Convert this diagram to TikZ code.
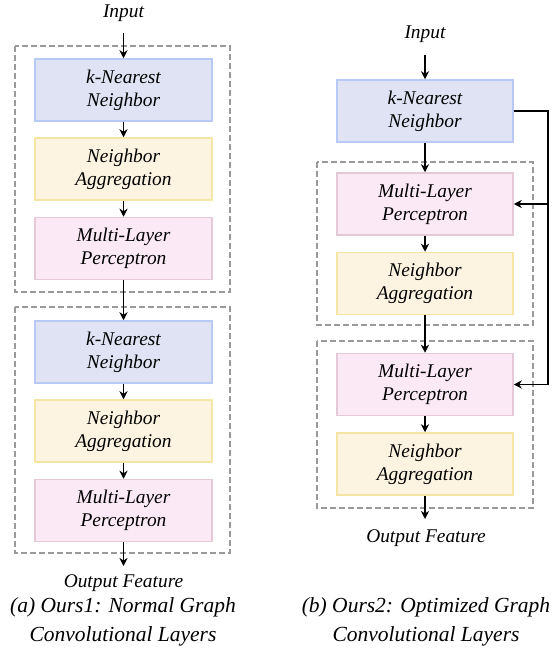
\documentclass[tikz,border=0pt]{standalone}
\usepackage{fontspec}
\setmainfont{Liberation Serif}
\usetikzlibrary{arrows.meta}
\definecolor{knnfill}{HTML}{DFE3F3}
\definecolor{knnline}{HTML}{B8C9F3}
\definecolor{nafill}{HTML}{FDF3E1}
\definecolor{naline}{HTML}{F6E6A6}
\definecolor{mlpfill}{HTML}{FBEAF5}
\definecolor{mlpline}{HTML}{E5C9D7}
\definecolor{dashgray}{HTML}{9A9A9A}
\tikzset{
  blk/.style={rectangle, line width=1.5pt, minimum width=177pt, minimum height=62pt, inner sep=0pt, align=center,
    font=\fontsize{19.4}{23}\selectfont\itshape},
  knn/.style={blk, draw=knnline, fill=knnfill},
  nagg/.style={blk, draw=naline, fill=nafill},
  mlp/.style={blk, draw=mlpline, fill=mlpfill},
  grp/.style={draw=dashgray, line width=1.5pt, dash pattern=on 6pt off 3pt},
  lbl/.style={font=\fontsize{19.4}{23}\selectfont\itshape, inner sep=0pt},
  captext/.style={font=\fontsize{21.5}{29}\selectfont\itshape, inner sep=0pt, align=center},
  arr/.style={line width=1.4pt, -{Stealth[length=8pt,width=8pt,inset=2.5pt]}},
}
\begin{document}
\begin{tikzpicture}[x=1pt,y=-1pt]
\useasboundingbox (0,0) rectangle (557,671);
% left column
\draw[grp] (15,46) rectangle (230,292);
\draw[grp] (15,307) rectangle (230,553);
\node[lbl] (inA) at (123.5,13) {Input};
\coordinate (inAe) at (123.5,33);
\node[knn] (knnA1) at (123.5,90) {k-Nearest\\Neighbor};
\node[nagg] (naA1) at (123.5,169) {Neighbor\\Aggregation};
\node[mlp] (mlpA1) at (123.5,248.5) {Multi-Layer\\Perceptron};
\node[knn] (knnA2) at (123.5,352) {k-Nearest\\Neighbor};
\node[nagg] (naA2) at (123.5,431) {Neighbor\\Aggregation};
\node[mlp] (mlpA2) at (123.5,510.5) {Multi-Layer\\Perceptron};
\coordinate (outAe) at (123.5,566);
\node[lbl] (outA) at (123.5,583) {Output Feature};
\draw[arr] (inAe) -- (knnA1.north);
\draw[arr] (knnA1) -- (naA1);
\draw[arr] (naA1) -- (mlpA1);
\draw[arr] (mlpA1) -- (knnA2);
\draw[arr] (knnA2) -- (naA2);
\draw[arr] (naA2) -- (mlpA2);
\draw[arr] (mlpA2.south) -- (outAe);
\node[captext] (capA) at (123,622) {(a) Ours1: Normal Graph\\Convolutional Layers};
% right column
\draw[grp] (317,162) rectangle (533,325);
\draw[grp] (317,341) rectangle (533,508);
\node[lbl] (inB) at (425,34) {Input};
\coordinate (inBe) at (425,55);
\node[knn, minimum width=176pt] (knnB) at (425,111) {k-Nearest\\Neighbor};
\node[mlp, minimum width=176pt] (mlpB1) at (425,204) {Multi-Layer\\Perceptron};
\node[nagg, minimum width=176pt] (naB1) at (425,283.5) {Neighbor\\Aggregation};
\node[mlp, minimum width=176pt] (mlpB2) at (425,384.5) {Multi-Layer\\Perceptron};
\node[nagg, minimum width=176pt] (naB2) at (425,464) {Neighbor\\Aggregation};
\coordinate (outBe) at (425,519);
\node[lbl] (outB) at (426,538) {Output Feature};
\draw[arr] (inBe) -- (knnB.north);
\draw[arr] (knnB) -- (mlpB1);
\draw[arr] (mlpB1) -- (naB1);
\draw[arr] (naB1) -- (mlpB2);
\draw[arr] (mlpB2) -- (naB2);
\draw[arr] (naB2.south) -- (outBe);
\coordinate (sideT) at (548,111);
\coordinate (sideM) at (548,204);
\coordinate (sideB) at (548,384.5);
\draw[line width=1.4pt] (knnB.east) -- (sideT) -- (sideB);
\draw[arr] (sideM) -- (mlpB1.east);
\draw[arr] (sideB) -- (mlpB2.east);
\node[captext] (capB) at (426,622) {(b) Ours2: Optimized Graph\\Convolutional Layers};
\end{tikzpicture}
\end{document}
